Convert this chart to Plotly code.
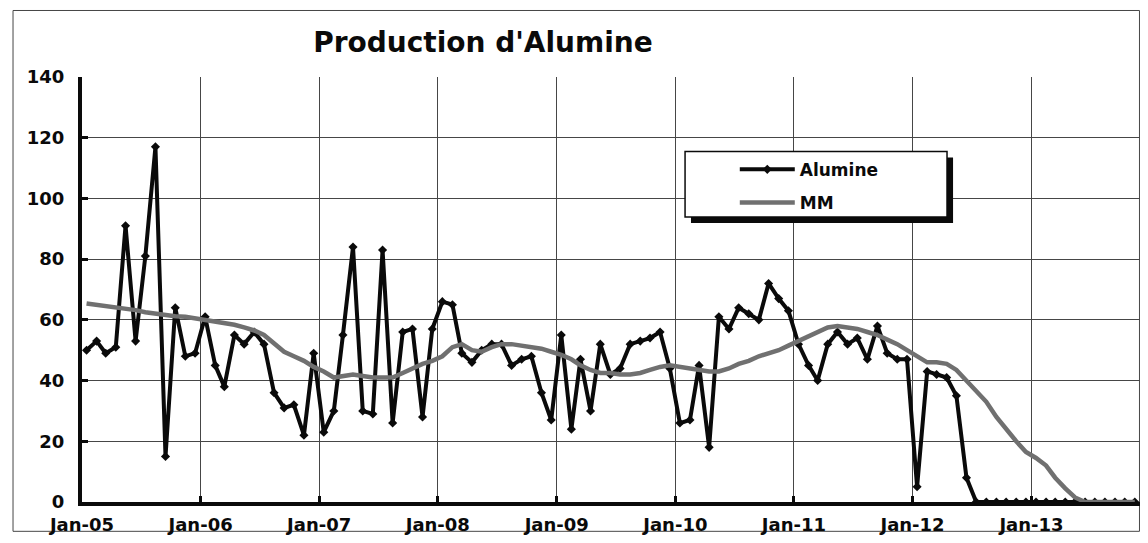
import pandas as pd
import plotly.graph_objects as go

# ===========================
# DATA (monthly, Jan-05 .. Nov-13)
# ===========================
months = pd.date_range("2005-01-01", periods=107, freq="MS") + pd.Timedelta(days=14)

alumine = [50, 53, 49, 51, 91, 53, 81, 117, 15, 64, 48, 49,
           61, 45, 38, 55, 52, 56, 52, 36, 31, 32, 22, 49,
           23, 30, 55, 84, 30, 29, 83, 26, 56, 57, 28, 57,
           66, 65, 49, 46, 50, 52, 52, 45, 47, 48, 36, 27,
           55, 24, 47, 30, 52, 42, 44, 52, 53, 54, 56, 44,
           26, 27, 45, 18, 61, 57, 64, 62, 60, 72, 67, 63,
           52, 45, 40, 52, 56, 52, 54, 47, 58, 49, 47, 47,
           5, 43, 42, 41, 35, 8, 0, 0, 0, 0, 0, 0,
           0, 0, 0, 0, 0, 0, 0, 0, 0, 0, 0]

mm = [65.4, 65, 64.5, 64, 63.5, 63.2, 62.5, 62, 61.5, 61.2, 61, 60.5,
      60, 59.5, 59, 58.4, 57.5, 56.5, 55, 52, 49.5, 48, 46.5, 44.5,
      43, 41, 41.5, 42, 41.5, 41, 41, 41, 42.5, 44, 45.5, 46.5,
      48, 51, 52, 50, 49.5, 51, 52, 52, 51.5, 51, 50.5, 49.5,
      48.5, 47, 45, 43.5, 42.5, 42.5, 42, 42, 42.5, 43.5, 44.5, 45,
      44.5, 44, 43.5, 43, 43, 44, 45.5, 46.5, 48, 49, 50, 51.5,
      53, 54.5, 56, 57.5, 58, 57.5, 57, 56, 55, 53.5, 52, 50,
      48, 46, 46, 45.5, 43.5, 40, 37, 33, 28, 24, 20, 16.5,
      14.5, 12, 8, 4.5, 1.5, 0, 0, 0, 0, 0, 0]

series_names = ["Alumine", "MM"]
title_text = "Production d'Alumine"

# ===========================
# STYLE
# ===========================
font_fam = "DejaVu Sans"
black = "rgb(10,10,10)"
grey_line = "rgb(112,112,112)"
grid_col = "rgb(70,70,70)"

# page body has an 8px margin, so the figure is sized to fit inside it
W, H = 1132, 527

fig = go.Figure()

fig.add_trace(go.Scatter(
    x=months, y=alumine, name=series_names[0], mode="lines+markers",
    line=dict(color=black, width=4),
    marker=dict(symbol="diamond", size=7, color=black),
    legendgroup="a"
))

fig.add_trace(go.Scatter(
    x=months, y=mm, name=series_names[1], mode="lines",
    line=dict(color=grey_line, width=4.5),
    legendgroup="b"
))

# legend box + shadow, outer frame
shapes = [
    dict(type="rect", xref="paper", yref="paper",
         x0=0.5756, x1=0.8233, y0=0.6565, y1=0.8107,
         fillcolor=black, line=dict(width=0), layer="above"),
    dict(type="rect", xref="paper", yref="paper",
         x0=0.5700, x1=0.8176, y0=0.6706, y1=0.8248,
         fillcolor="white", line=dict(color=black, width=1.5), layer="above"),
    dict(type="rect", xref="paper", yref="paper",
         x0=-0.0652, x1=0.9995, y0=-0.0690, y1=1.1565,
         fillcolor="rgba(0,0,0,0)", line=dict(color=grid_col, width=1), layer="below"),
]

fig.update_layout(
    width=W, height=H,
    margin=dict(l=74, r=0, t=69, b=30),
    paper_bgcolor="white", plot_bgcolor="white",
    title=dict(text=title_text, x=0.379, xanchor="center", xref="paper",
               y=1 - 34 / H, yanchor="middle",
               font=dict(family=font_fam, size=28, color=black, weight="bold")),
    font=dict(family=font_fam, color=black, weight="bold"),
    showlegend=True,
    legend=dict(x=0.617, y=0.824, xanchor="left", yanchor="top",
                bgcolor="rgba(0,0,0,0)", borderwidth=0,
                font=dict(family=font_fam, size=17, color=black, weight="bold"),
                traceorder="grouped", tracegroupgap=8, itemwidth=55),
    shapes=shapes,
)

fig.update_xaxes(
    type="date", range=["2005-01-01", "2013-12-01"],
    tick0="2005-01-01", dtick="M12", tickformat="%b-%y",
    showgrid=True, gridcolor=grid_col, gridwidth=1,
    showline=True, linecolor=black, linewidth=4,
    ticks="inside", ticklen=6, tickwidth=3, tickcolor=black,
    ticklabelstandoff=3,
    tickfont=dict(family=font_fam, size=18, color=black, weight="bold"),
    zeroline=False,
)

fig.update_yaxes(
    range=[0, 140], dtick=20,
    showgrid=True, gridcolor=grid_col, gridwidth=1,
    showline=True, linecolor=black, linewidth=4,
    ticks="inside", ticklen=6, tickwidth=3, tickcolor=black,
    ticklabelstandoff=10,
    tickfont=dict(family=font_fam, size=18, color=black, weight="bold"),
    zeroline=False,
)

fig.write_html("out.html")
